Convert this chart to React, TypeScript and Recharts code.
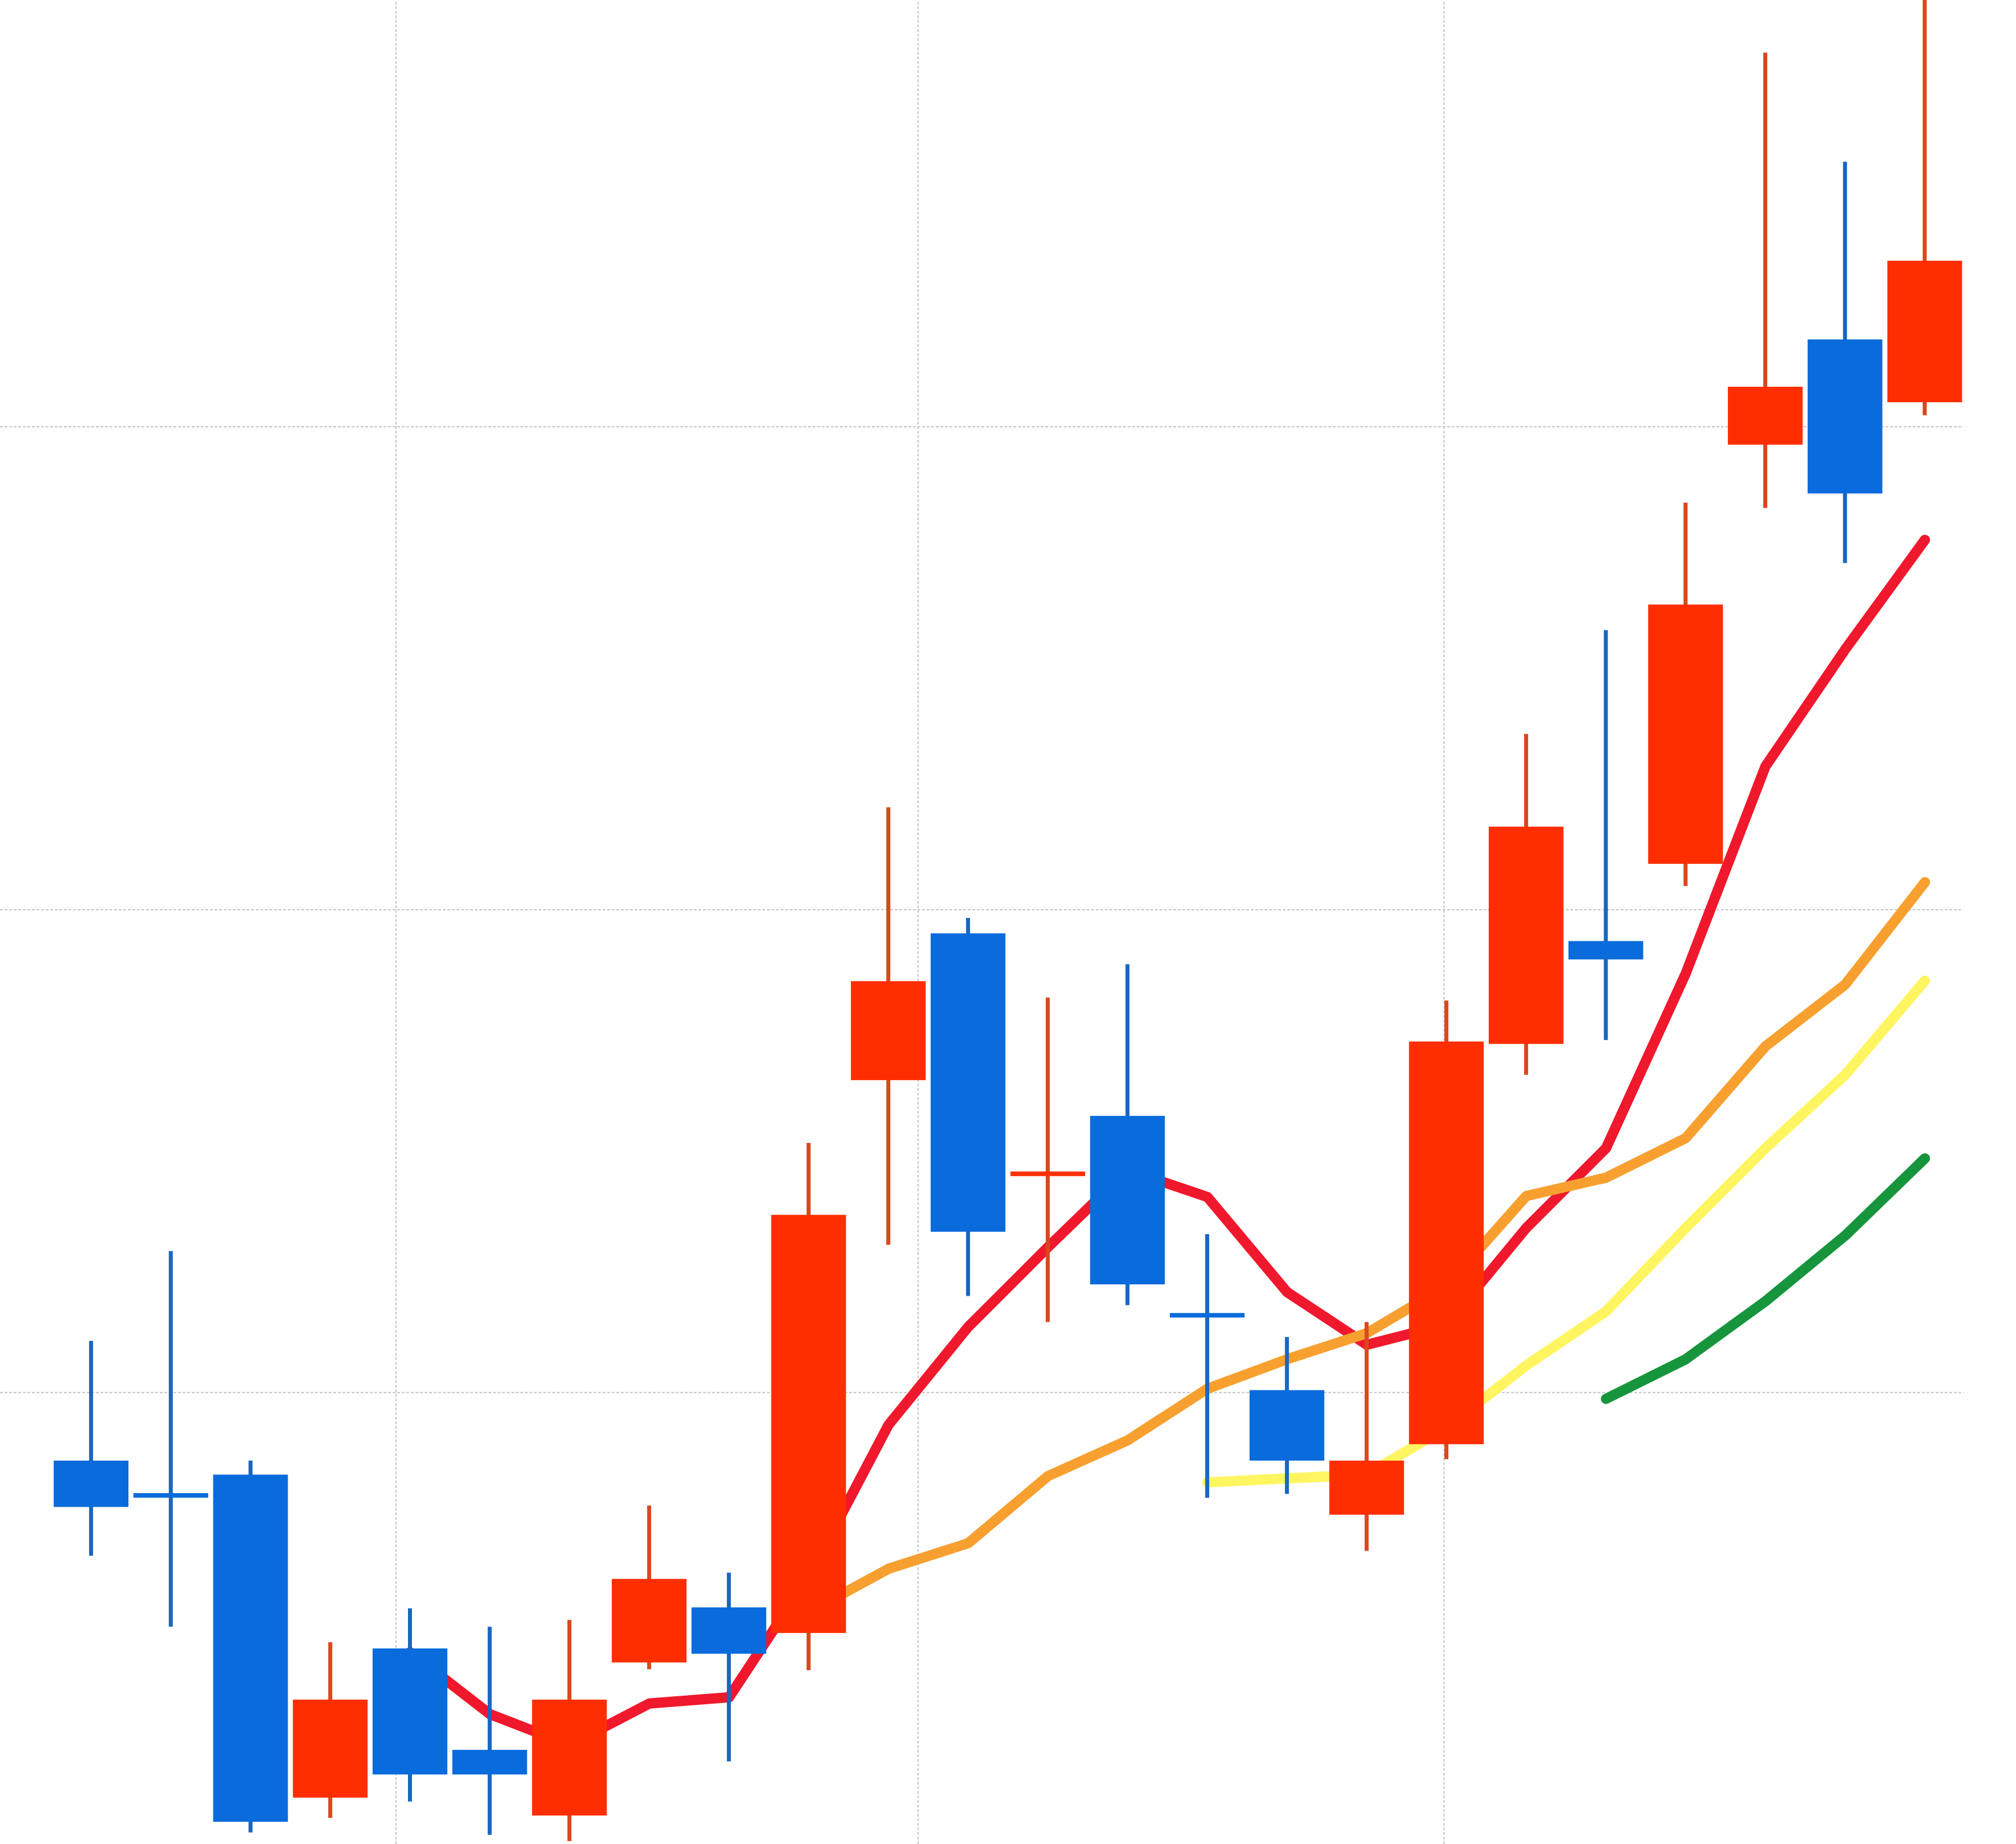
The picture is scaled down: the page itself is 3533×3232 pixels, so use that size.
import React from "react";
import { ComposedChart, Bar, Line, XAxis, YAxis, ReferenceLine } from "recharts";

// one entry per candle
const opens = [98.59, 97.87, 98.3, 91.61, 94.7, 92.6, 91.24, 94.41, 95.55, 95.02, 106.47, 109.51, 104.53, 105.73, 101.6, 100.05, 97.47, 98.93, 107.22, 109.35, 110.95, 119.63, 121.81, 120.51];
const highs = [101.07, 102.93, 98.59, 94.83, 95.53, 95.15, 95.29, 97.66, 96.27, 105.17, 112.12, 109.83, 108.18, 108.87, 103.28, 101.15, 101.46, 108.12, 113.64, 115.79, 118.43, 127.75, 125.49, 129.2];
const lows = [96.62, 95.15, 90.89, 91.19, 91.53, 90.84, 90.71, 94.27, 92.36, 94.25, 103.06, 102.0, 101.46, 101.81, 97.82, 97.9, 96.72, 98.62, 106.58, 107.3, 110.49, 118.32, 117.18, 120.24];
const closes = [97.63, 97.87, 91.11, 93.64, 92.09, 92.09, 93.64, 96.14, 94.59, 103.68, 108.52, 103.33, 104.53, 102.24, 101.6, 98.59, 98.59, 107.27, 111.72, 108.97, 116.32, 120.83, 118.62, 123.44];
const upFlags = [false, false, false, true, false, false, true, true, false, true, true, false, true, false, false, false, true, true, true, false, true, true, false, true];

const ma5 = [null, null, null, null, 94.62, 93.34, 92.7, 93.56, 93.69, 96.19, 99.33, 101.36, 103.01, 104.61, 104.05, 102.08, 100.99, 101.41, 103.41, 105.06, 108.68, 112.97, 115.39, 117.66];
const ma10 = [null, null, null, null, null, null, null, null, null, 95.45, 96.35, 96.88, 98.27, 99.01, 100.08, 100.69, 101.23, 102.21, 104.07, 104.45, 105.27, 107.17, 108.45, 110.57];
const ma15 = [null, null, null, null, null, null, null, null, null, null, null, null, null, null, 98.14, 98.22, 98.3, 99.28, 100.56, 101.68, 103.41, 105.06, 106.58, 108.53];
const ma20 = [null, null, null, null, null, null, null, null, null, null, null, null, null, null, null, null, null, null, null, 99.87, 100.69, 101.89, 103.25, 104.85];

const xGridTicks = [3.823, 10.371, 16.968];
const yGridTicks = [100, 110, 120];

const UP_BODY = "#ff2e00";
const UP_WICK = "#d9481c";
const DOWN_BODY = "#0a6bdc";
const DOWN_WICK = "#1a66c0";
const GRID = "#c4c4c4";

const data = opens.map((open, i) => ({
  idx: i,
  open,
  high: highs[i],
  low: lows[i],
  close: closes[i],
  up: upFlags[i],
  ma5: ma5[i],
  ma10: ma10[i],
  ma15: ma15[i],
  ma20: ma20[i],
}));

const Candle = (props: any) => {
  const { x, y, width, height, payload } = props;
  if (x == null || y == null) return null;
  const top = Math.min(y, y + height);
  const h = Math.abs(height);
  const { open, close, high, low, up } = payload;
  const px = (v: number) => top + ((high - v) / (high - low)) * h;
  const bodyTop = px(Math.max(open, close));
  const bodyBot = px(Math.min(open, close));
  const thin = bodyBot - bodyTop < 8;
  const cx = x + width / 2;
  return (
    <g>
      <rect x={cx - 3.5} y={top} width={7} height={h} fill={up ? UP_WICK : DOWN_WICK} />
      <rect
        x={x}
        y={thin ? (bodyTop + bodyBot) / 2 - 4 : bodyTop}
        width={width}
        height={thin ? 8 : bodyBot - bodyTop}
        fill={up ? UP_BODY : DOWN_BODY}
      />
    </g>
  );
};

const W = 3533;
const H = 3232;
const margin = { top: 0, right: 92, bottom: 0, left: 0 };

const axes = [
  <XAxis key="x" dataKey="idx" type="number" domain={[-1.145, 23.484]} allowDataOverflow hide />,
  <YAxis key="y" type="number" domain={[90.65, 128.84]} allowDataOverflow hide />,
];

export default function App() {
  return (
    <div style={{ position: "absolute", left: 0, top: 0, width: W, height: H, background: "#fff" }}>
      {/* grid + moving averages underneath */}
      <div style={{ position: "absolute", left: 0, top: 0 }}>
        <ComposedChart width={W} height={H} data={data} margin={margin}>
          {axes}
          {xGridTicks.map((t) => (
            <ReferenceLine key={"vx" + t} x={t} stroke={GRID} strokeWidth={2} strokeDasharray="5 3" />
          ))}
          {yGridTicks.map((t) => (
            <ReferenceLine key={"hy" + t} y={t} stroke={GRID} strokeWidth={2} strokeDasharray="5 3" />
          ))}
          <Line dataKey="ma5" stroke="#f0182c" strokeWidth={18} dot={false} isAnimationActive={false} strokeLinecap="round" strokeLinejoin="round" />
          <Line dataKey="ma10" stroke="#f7a030" strokeWidth={18} dot={false} isAnimationActive={false} strokeLinecap="round" strokeLinejoin="round" />
          <Line dataKey="ma15" stroke="#fff560" strokeWidth={18} dot={false} isAnimationActive={false} strokeLinecap="round" strokeLinejoin="round" />
          <Line dataKey="ma20" stroke="#17953d" strokeWidth={18} dot={false} isAnimationActive={false} strokeLinecap="round" strokeLinejoin="round" />
        </ComposedChart>
      </div>
      {/* candles on top */}
      <div style={{ position: "absolute", left: 0, top: 0 }}>
        <ComposedChart width={W} height={H} data={data} margin={margin}>
          {axes}
          <Bar
            dataKey={(d: any) => [d.low, d.high]}
            barSize={131}
            shape={<Candle />}
            isAnimationActive={false}
          />
        </ComposedChart>
      </div>
    </div>
  );
}
